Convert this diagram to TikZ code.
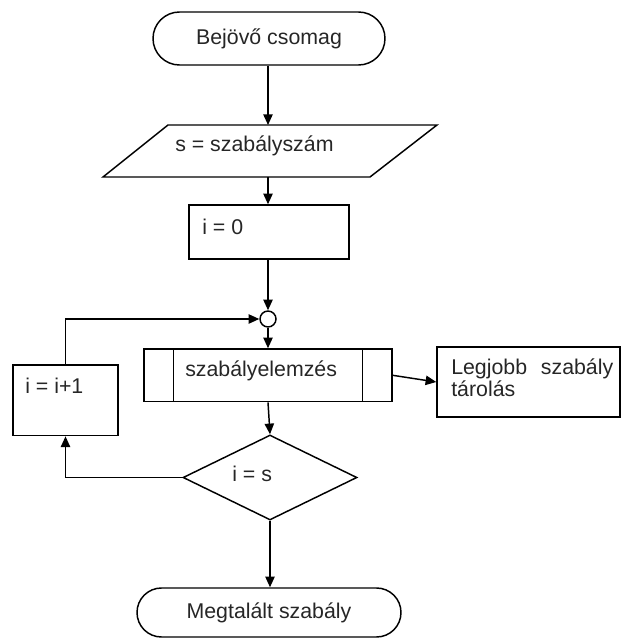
\documentclass[tikz,border=0pt]{standalone}
\usepackage{fontspec}
\setmainfont{Liberation Sans}
\usetikzlibrary{shapes.geometric,shapes.misc,arrows.meta}

\begin{document}
\begin{tikzpicture}[
  x=0.75pt, y=-0.75pt,
  font=\fontsize{16}{16.2}\selectfont,
  every node/.style={text=black!85},
  box/.style={draw=black, line width=1.1pt, rectangle, inner sep=0pt},
  terminal/.style={draw=black, line width=1.1pt, rounded rectangle, rounded rectangle arc length=180, inner sep=0pt},
  decision/.style={draw=black, line width=1.1pt, diamond, inner sep=0pt},
  junction/.style={draw=black, line width=1.1pt, circle, inner sep=0pt, minimum size=12pt},
  label/.style={inner sep=0pt, anchor=base west},
  flow/.style={draw=black, line width=1.1pt, -{Triangle[length=8pt, width=7pt]}}
]
\useasboundingbox (0,0) rectangle (622,641);

% start and end terminals
\node[terminal, minimum width=174pt, minimum height=39.75pt] (start) at (269,38.5) {Bejövő csomag};
\node[terminal, minimum width=198pt, minimum height=36.75pt] (stop) at (269,612.5) {Megtalált szabály};

% input parallelogram
\coordinate (inTL) at (168,125);
\coordinate (inTR) at (437,125);
\coordinate (inBR) at (370,177);
\coordinate (inBL) at (103,177);
\coordinate (inTop) at (268,125);
\coordinate (inBot) at (268,177);
\draw[black, line width=1.1pt, line join=miter] (inTL) -- (inTR) -- (inBR) -- (inBL) -- cycle;
\node[label] (inText) at (175,152) {s = szabályszám};

% initialisation
\node[box, minimum width=120pt, minimum height=40.5pt] (init) at (269,232) {};
\node[label] (initText) at (202,234) {i = 0};

% loop junction
\node[junction] (join) at (268,319) {};

% predefined process
\node[box, minimum width=186pt, minimum height=39.5pt] (proc) at (268,375.3) {};
\draw[black, line width=1.1pt] ([xshift=22.5pt]proc.north west) -- ([xshift=22.5pt]proc.south west);
\draw[black, line width=1.1pt] ([xshift=-22.5pt]proc.north east) -- ([xshift=-22.5pt]proc.south east);
\node[label] (procText) at (185,376.5) {szabályelemzés};

% store best rule
\node[box, minimum width=137.25pt, minimum height=52.5pt] (store) at (528.5,382) {};
\node[inner sep=0pt, anchor=north west, text width=121.5pt, align=left] (storeText) at (451,358.5)
  {Legjobb\hfill szabály\\tárolás};

% increment
\node[box, minimum width=79pt, minimum height=53pt] (inc) at (65.5,400.3) {};
\node[label] (incText) at (25,393) {i = i+1};

% loop test
\node[decision, minimum width=130.5pt, minimum height=63.75pt] (test) at (270,477.5) {};
\node[label] (testText) at (232,481.7) {i = s};

% connectors
\draw[flow] (start.south -| inTop) -- (inTop);
\draw[flow] (inBot) -- (inBot |- init.north);
\draw[flow] (init.south -| join) -- (join.north);
\draw[flow] (join.south) -- (join.south |- proc.north);
\draw[flow] (proc.east) -- (store.west);
\draw[flow] (proc.south) -- (test.north);
\draw[flow] (test.west) -| (inc.south);
\draw[flow] (inc.north) |- (join.west);
\draw[flow] (test.south) -- (test.south |- stop.north);
\end{tikzpicture}
\end{document}
